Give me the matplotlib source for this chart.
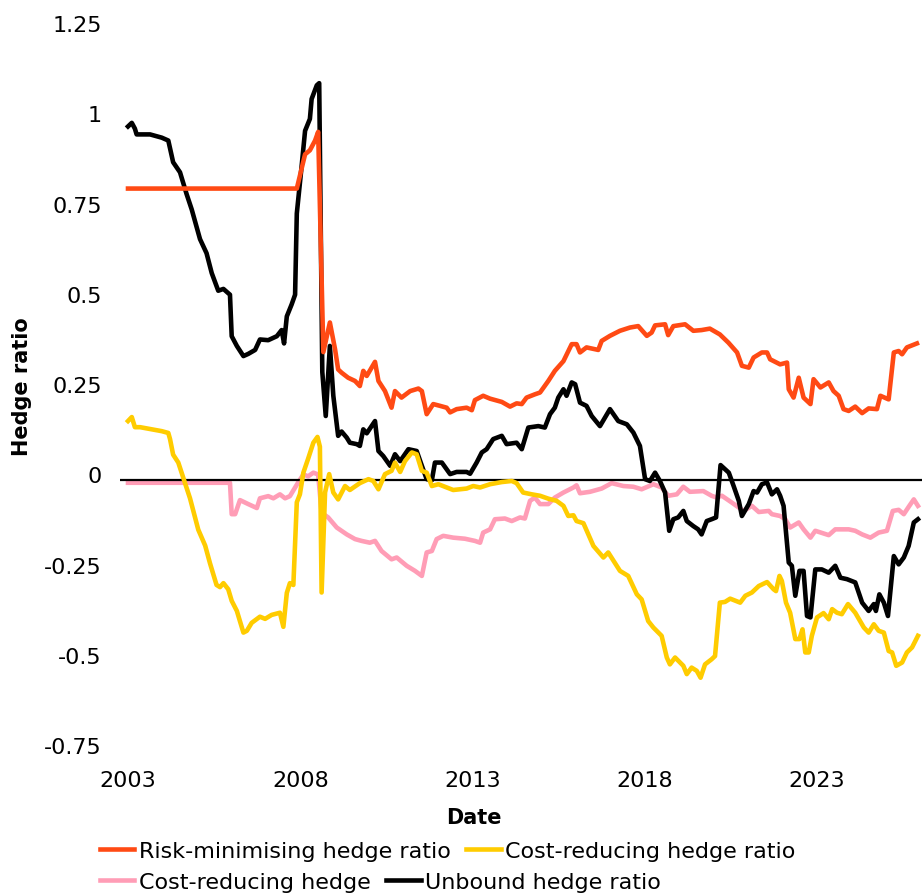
import matplotlib
matplotlib.use("Agg")
import matplotlib.pyplot as plt
from matplotlib.transforms import ScaledTranslation

# hedge ratios, x in decimal years
risk_years = [2003.0, 2007.90, 2008.14, 2008.28, 2008.43, 2008.52, 2008.67, 2008.86, 2009.01, 2009.10,
              2009.20, 2009.39, 2009.59, 2009.73, 2009.83, 2009.93, 2010.17, 2010.27, 2010.46, 2010.65,
              2010.75, 2010.94, 2011.19, 2011.43, 2011.53, 2011.67, 2011.86, 2012.06, 2012.25, 2012.35,
              2012.54, 2012.83, 2012.98, 2013.07, 2013.31, 2013.51, 2013.85, 2014.09, 2014.28, 2014.43,
              2014.57, 2014.81, 2014.96, 2015.20, 2015.39, 2015.64, 2015.88, 2016.02, 2016.12, 2016.31,
              2016.65, 2016.75, 2016.99, 2017.28, 2017.57, 2017.81, 2018.06, 2018.20, 2018.30, 2018.59,
              2018.68, 2018.83, 2019.17, 2019.41, 2019.65, 2019.89, 2020.18, 2020.43, 2020.68, 2020.82,
              2021.02, 2021.16, 2021.40, 2021.55, 2021.64, 2021.93, 2022.13, 2022.18, 2022.32, 2022.47,
              2022.61, 2022.81, 2022.90, 2023.10, 2023.34, 2023.48, 2023.63, 2023.77, 2023.92, 2024.11,
              2024.31, 2024.50, 2024.74, 2024.84, 2025.08, 2025.23, 2025.37, 2025.47, 2025.61, 2025.90]
risk_vals = [0.808, 0.808, 0.903, 0.914, 0.941, 0.965, 0.355, 0.437, 0.363, 0.307,
             0.298, 0.284, 0.275, 0.261, 0.303, 0.289, 0.328, 0.275, 0.247, 0.201,
             0.247, 0.229, 0.247, 0.254, 0.247, 0.183, 0.211, 0.206, 0.201, 0.188,
             0.197, 0.201, 0.194, 0.222, 0.234, 0.226, 0.217, 0.204, 0.213, 0.211,
             0.229, 0.238, 0.243, 0.275, 0.303, 0.330, 0.377, 0.377, 0.354, 0.368,
             0.361, 0.386, 0.400, 0.414, 0.423, 0.427, 0.400, 0.409, 0.429, 0.432,
             0.402, 0.427, 0.432, 0.414, 0.416, 0.420, 0.404, 0.381, 0.354, 0.317,
             0.312, 0.340, 0.354, 0.354, 0.335, 0.321, 0.326, 0.252, 0.229, 0.284,
             0.229, 0.211, 0.280, 0.257, 0.271, 0.247, 0.234, 0.197, 0.192, 0.204,
             0.186, 0.199, 0.197, 0.234, 0.224, 0.354, 0.358, 0.349, 0.368, 0.379]

cost_years = [2003.0, 2003.11, 2003.20, 2003.35, 2003.64, 2003.98, 2004.17, 2004.22, 2004.31, 2004.46,
              2004.61, 2004.80, 2005.04, 2005.24, 2005.38, 2005.57, 2005.67, 2005.77, 2005.91, 2006.01,
              2006.16, 2006.35, 2006.45, 2006.59, 2006.83, 2006.98, 2007.17, 2007.41, 2007.51, 2007.61,
              2007.70, 2007.80, 2007.90, 2007.99, 2008.09, 2008.23, 2008.38, 2008.50, 2008.57, 2008.62,
              2008.72, 2008.84, 2008.96, 2009.10, 2009.30, 2009.44, 2009.73, 2009.98, 2010.12, 2010.27,
              2010.46, 2010.65, 2010.75, 2010.90, 2011.04, 2011.24, 2011.38, 2011.53, 2011.67, 2011.82,
              2012.01, 2012.25, 2012.44, 2012.83, 2013.02, 2013.22, 2013.51, 2013.85, 2014.14, 2014.28,
              2014.47, 2014.72, 2014.96, 2015.20, 2015.44, 2015.64, 2015.78, 2015.93, 2016.02, 2016.22,
              2016.51, 2016.80, 2016.94, 2017.28, 2017.52, 2017.77, 2017.91, 2018.10, 2018.25, 2018.49,
              2018.64, 2018.73, 2018.88, 2019.12, 2019.22, 2019.36, 2019.51, 2019.62, 2019.75, 2019.94,
              2020.04, 2020.18, 2020.33, 2020.48, 2020.77, 2020.92, 2021.11, 2021.31, 2021.55, 2021.74,
              2021.81, 2021.91, 2021.98, 2022.10, 2022.22, 2022.37, 2022.49, 2022.58, 2022.66, 2022.76,
              2022.85, 2023.00, 2023.19, 2023.34, 2023.44, 2023.58, 2023.72, 2023.90, 2024.11, 2024.36,
              2024.50, 2024.65, 2024.79, 2024.94, 2025.08, 2025.18, 2025.30, 2025.47, 2025.61, 2025.76,
              2025.93]
cost_vals = [0.164, 0.175, 0.147, 0.147, 0.142, 0.136, 0.131, 0.114, 0.071, 0.049,
             0.005, -0.050, -0.137, -0.181, -0.230, -0.290, -0.296, -0.285, -0.302, -0.334,
             -0.362, -0.422, -0.417, -0.395, -0.378, -0.384, -0.373, -0.367, -0.406, -0.312,
             -0.285, -0.290, -0.061, -0.039, 0.021, 0.060, 0.104, 0.120, 0.093, -0.311,
             -0.034, 0.017, -0.034, -0.053, -0.016, -0.027, -0.008, 0.003, -0.002, -0.025,
             0.017, 0.026, 0.049, 0.023, 0.053, 0.077, 0.072, 0.026, 0.021, -0.016,
             -0.011, -0.020, -0.027, -0.023, -0.016, -0.020, -0.011, -0.005, -0.002, -0.008,
             -0.034, -0.039, -0.043, -0.051, -0.057, -0.071, -0.099, -0.097, -0.113, -0.119,
             -0.182, -0.214, -0.200, -0.251, -0.265, -0.316, -0.330, -0.390, -0.408, -0.431,
             -0.491, -0.510, -0.491, -0.514, -0.537, -0.519, -0.528, -0.547, -0.510, -0.496,
             -0.487, -0.339, -0.337, -0.328, -0.339, -0.320, -0.311, -0.293, -0.282, -0.302,
             -0.307, -0.265, -0.279, -0.339, -0.367, -0.440, -0.440, -0.413, -0.477, -0.477,
             -0.431, -0.380, -0.368, -0.385, -0.357, -0.367, -0.371, -0.343, -0.367, -0.408,
             -0.422, -0.399, -0.417, -0.422, -0.473, -0.477, -0.514, -0.505, -0.477, -0.463,
             -0.431]

hedge_years = [2003.0, 2005.96, 2006.01, 2006.11, 2006.25, 2006.49, 2006.74, 2006.83, 2007.07, 2007.22,
               2007.41, 2007.56, 2007.70, 2007.80, 2007.94, 2008.09, 2008.23, 2008.38, 2008.52, 2008.62,
               2008.81, 2009.06, 2009.35, 2009.59, 2009.78, 2010.02, 2010.17, 2010.36, 2010.65, 2010.80,
               2011.09, 2011.33, 2011.53, 2011.67, 2011.82, 2011.96, 2012.15, 2012.44, 2012.78, 2013.07,
               2013.22, 2013.31, 2013.51, 2013.65, 2013.94, 2014.14, 2014.38, 2014.52, 2014.67, 2014.81,
               2014.96, 2015.20, 2015.39, 2015.64, 2015.93, 2016.02, 2016.12, 2016.41, 2016.75, 2017.04,
               2017.38, 2017.67, 2017.91, 2018.25, 2018.49, 2018.68, 2018.93, 2019.12, 2019.31, 2019.70,
               2019.94, 2020.09, 2020.24, 2020.53, 2020.87, 2021.11, 2021.31, 2021.60, 2021.69, 2021.93,
               2022.08, 2022.22, 2022.47, 2022.61, 2022.81, 2022.95, 2023.34, 2023.53, 2023.92, 2024.11,
               2024.31, 2024.55, 2024.79, 2025.03, 2025.20, 2025.37, 2025.52, 2025.68, 2025.81, 2025.93]
hedge_vals = [-0.007, -0.007, -0.094, -0.094, -0.055, -0.066, -0.077, -0.050, -0.044, -0.050,
              -0.039, -0.050, -0.044, -0.028, -0.006, 0.016, 0.011, 0.021, 0.016, -0.090,
              -0.103, -0.131, -0.150, -0.163, -0.168, -0.173, -0.168, -0.196, -0.219, -0.214,
              -0.237, -0.251, -0.265, -0.200, -0.196, -0.163, -0.154, -0.159, -0.162, -0.168,
              -0.173, -0.145, -0.136, -0.108, -0.106, -0.113, -0.103, -0.106, -0.057, -0.048,
              -0.066, -0.066, -0.048, -0.034, -0.020, -0.014, -0.036, -0.032, -0.023, -0.008,
              -0.016, -0.018, -0.025, -0.011, -0.020, -0.043, -0.039, -0.018, -0.032, -0.030,
              -0.043, -0.048, -0.043, -0.062, -0.085, -0.071, -0.088, -0.085, -0.094, -0.099,
              -0.108, -0.131, -0.117, -0.136, -0.159, -0.140, -0.152, -0.136, -0.136, -0.140,
              -0.150, -0.159, -0.145, -0.140, -0.085, -0.082, -0.094, -0.071, -0.053, -0.071]

unbound_years = [2003.0, 2003.11, 2003.20, 2003.25, 2003.64, 2003.98, 2004.17, 2004.31, 2004.51, 2004.70,
                 2004.85, 2005.09, 2005.28, 2005.43, 2005.62, 2005.77, 2005.96, 2006.01, 2006.16, 2006.35,
                 2006.49, 2006.69, 2006.83, 2007.07, 2007.32, 2007.46, 2007.53, 2007.61, 2007.75, 2007.85,
                 2007.90, 2008.04, 2008.14, 2008.28, 2008.33, 2008.48, 2008.55, 2008.64, 2008.74, 2008.86,
                 2008.96, 2009.10, 2009.20, 2009.35, 2009.44, 2009.64, 2009.73, 2009.83, 2009.93, 2010.17,
                 2010.27, 2010.41, 2010.61, 2010.75, 2010.90, 2011.14, 2011.38, 2011.53, 2011.67, 2011.82,
                 2011.91, 2012.11, 2012.35, 2012.54, 2012.83, 2012.93, 2013.12, 2013.27, 2013.41, 2013.60,
                 2013.85, 2013.99, 2014.28, 2014.43, 2014.62, 2014.91, 2015.10, 2015.25, 2015.39, 2015.49,
                 2015.64, 2015.73, 2015.88, 2015.98, 2016.12, 2016.31, 2016.46, 2016.70, 2016.85, 2016.99,
                 2017.23, 2017.48, 2017.67, 2017.86, 2018.01, 2018.15, 2018.30, 2018.44, 2018.59, 2018.71,
                 2018.83, 2018.97, 2019.12, 2019.22, 2019.41, 2019.55, 2019.65, 2019.80, 2019.94, 2020.07,
                 2020.20, 2020.44, 2020.58, 2020.73, 2020.82, 2021.02, 2021.16, 2021.26, 2021.40, 2021.55,
                 2021.69, 2021.84, 2021.93, 2022.03, 2022.18, 2022.27, 2022.37, 2022.49, 2022.61, 2022.71,
                 2022.81, 2022.95, 2023.14, 2023.34, 2023.53, 2023.68, 2023.87, 2024.11, 2024.31, 2024.50,
                 2024.65, 2024.71, 2024.81, 2024.94, 2025.06, 2025.23, 2025.37, 2025.52, 2025.66, 2025.81,
                 2025.93]
unbound_vals = [0.980, 0.990, 0.974, 0.958, 0.958, 0.949, 0.941, 0.881, 0.853, 0.793,
                0.750, 0.668, 0.629, 0.574, 0.525, 0.530, 0.514, 0.399, 0.372, 0.344,
                0.350, 0.361, 0.390, 0.388, 0.399, 0.416, 0.379, 0.454, 0.487, 0.514,
                0.739, 0.870, 0.968, 1.001, 1.056, 1.094, 1.100, 0.300, 0.178, 0.372,
                0.234, 0.123, 0.135, 0.118, 0.104, 0.100, 0.095, 0.141, 0.130, 0.164,
                0.081, 0.067, 0.040, 0.072, 0.053, 0.086, 0.081, 0.040, 0.003, 0.000,
                0.049, 0.049, 0.017, 0.023, 0.023, 0.018, 0.049, 0.077, 0.086, 0.114,
                0.123, 0.100, 0.104, 0.086, 0.146, 0.150, 0.146, 0.183, 0.201, 0.229,
                0.252, 0.234, 0.271, 0.266, 0.215, 0.206, 0.178, 0.150, 0.174, 0.197,
                0.164, 0.155, 0.132, 0.095, 0.003, -0.002, 0.021, -0.002, -0.034, -0.140,
                -0.108, -0.103, -0.085, -0.113, -0.127, -0.136, -0.150, -0.113, -0.108, -0.103,
                0.042, 0.021, -0.016, -0.057, -0.099, -0.066, -0.030, -0.034, -0.011, -0.006,
                -0.039, -0.025, -0.043, -0.071, -0.228, -0.237, -0.320, -0.251, -0.251, -0.376,
                -0.380, -0.247, -0.247, -0.256, -0.237, -0.270, -0.274, -0.283, -0.339, -0.362,
                -0.343, -0.362, -0.316, -0.339, -0.376, -0.210, -0.233, -0.214, -0.182, -0.117,
                -0.108]

y_ticks = [-0.75, -0.5, -0.25, 0, 0.25, 0.5, 0.75, 1, 1.25]
y_tick_labels = ["-0.75", "-0.5", "-0.25", "0", "0.25", "0.5", "0.75", "1", "1.25"]
x_ticks = [2003, 2008, 2013, 2018, 2023]

RED, YELLOW, PINK = "#ff4a14", "#ffcc00", "#ff9db6"

plt.rcParams["font.family"] = "DejaVu Sans"
fig = plt.figure(figsize=(9.22, 8.95), dpi=100)
ax = fig.add_axes([120 / 922, 1 - 752 / 895, 1 - 120 / 922, (752 - 30) / 895])

lw = 3.3
ax.axhline(0, color="black", lw=1.6, zorder=1.5)
l_pink, = ax.plot(hedge_years, hedge_vals, color=PINK, lw=lw, zorder=1)
l_blk, = ax.plot(unbound_years, unbound_vals, color="black", lw=lw, zorder=2)
l_yel, = ax.plot(cost_years, cost_vals, color=YELLOW, lw=lw, zorder=3)
l_red, = ax.plot(risk_years, risk_vals, color=RED, lw=lw, zorder=4)

ax.set_xlim(2003 - 8 / 34.45, 2003 + (922 - 128) / 34.45)
ax.set_ylim(-0.75, 1.25)
ax.set_xticks(x_ticks)
ax.set_xticklabels([str(t) for t in x_ticks])
ax.set_yticks(y_ticks)
ax.set_yticklabels(y_tick_labels)
ax.tick_params(length=0, labelsize=16)
ax.tick_params(axis="y", pad=13)
ax.tick_params(axis="x", pad=14)
for s in ax.spines.values():
    s.set_visible(False)
# tick labels sit slightly above their gridline value in the original
for lab in ax.get_yticklabels():
    lab.set_transform(lab.get_transform() + ScaledTranslation(0, 0.06, fig.dpi_scale_trans))

fig.text(22 / 922, 1 - 387 / 895, "Hedge ratio", rotation=90, ha="center", va="center",
         fontsize=15, fontweight="bold")
fig.text(474 / 922, 1 - 818 / 895, "Date", ha="center", va="center", fontsize=15, fontweight="bold")

leg_kw = dict(loc="center left", ncol=2, frameon=False, fontsize=16, borderpad=0, borderaxespad=0,
              handlelength=1.55, handletextpad=0.2, columnspacing=0.7)
fig.legend([l_red, l_yel], ["Risk-minimising hedge ratio", "Cost-reducing hedge ratio"],
           bbox_to_anchor=(100 / 922, 1 - 852 / 895), **leg_kw)
fig.legend([l_pink, l_blk], ["Cost-reducing hedge", "Unbound hedge ratio"],
           bbox_to_anchor=(100 / 922, 1 - 883 / 895), **leg_kw)

fig.savefig("out.png", dpi=100)
